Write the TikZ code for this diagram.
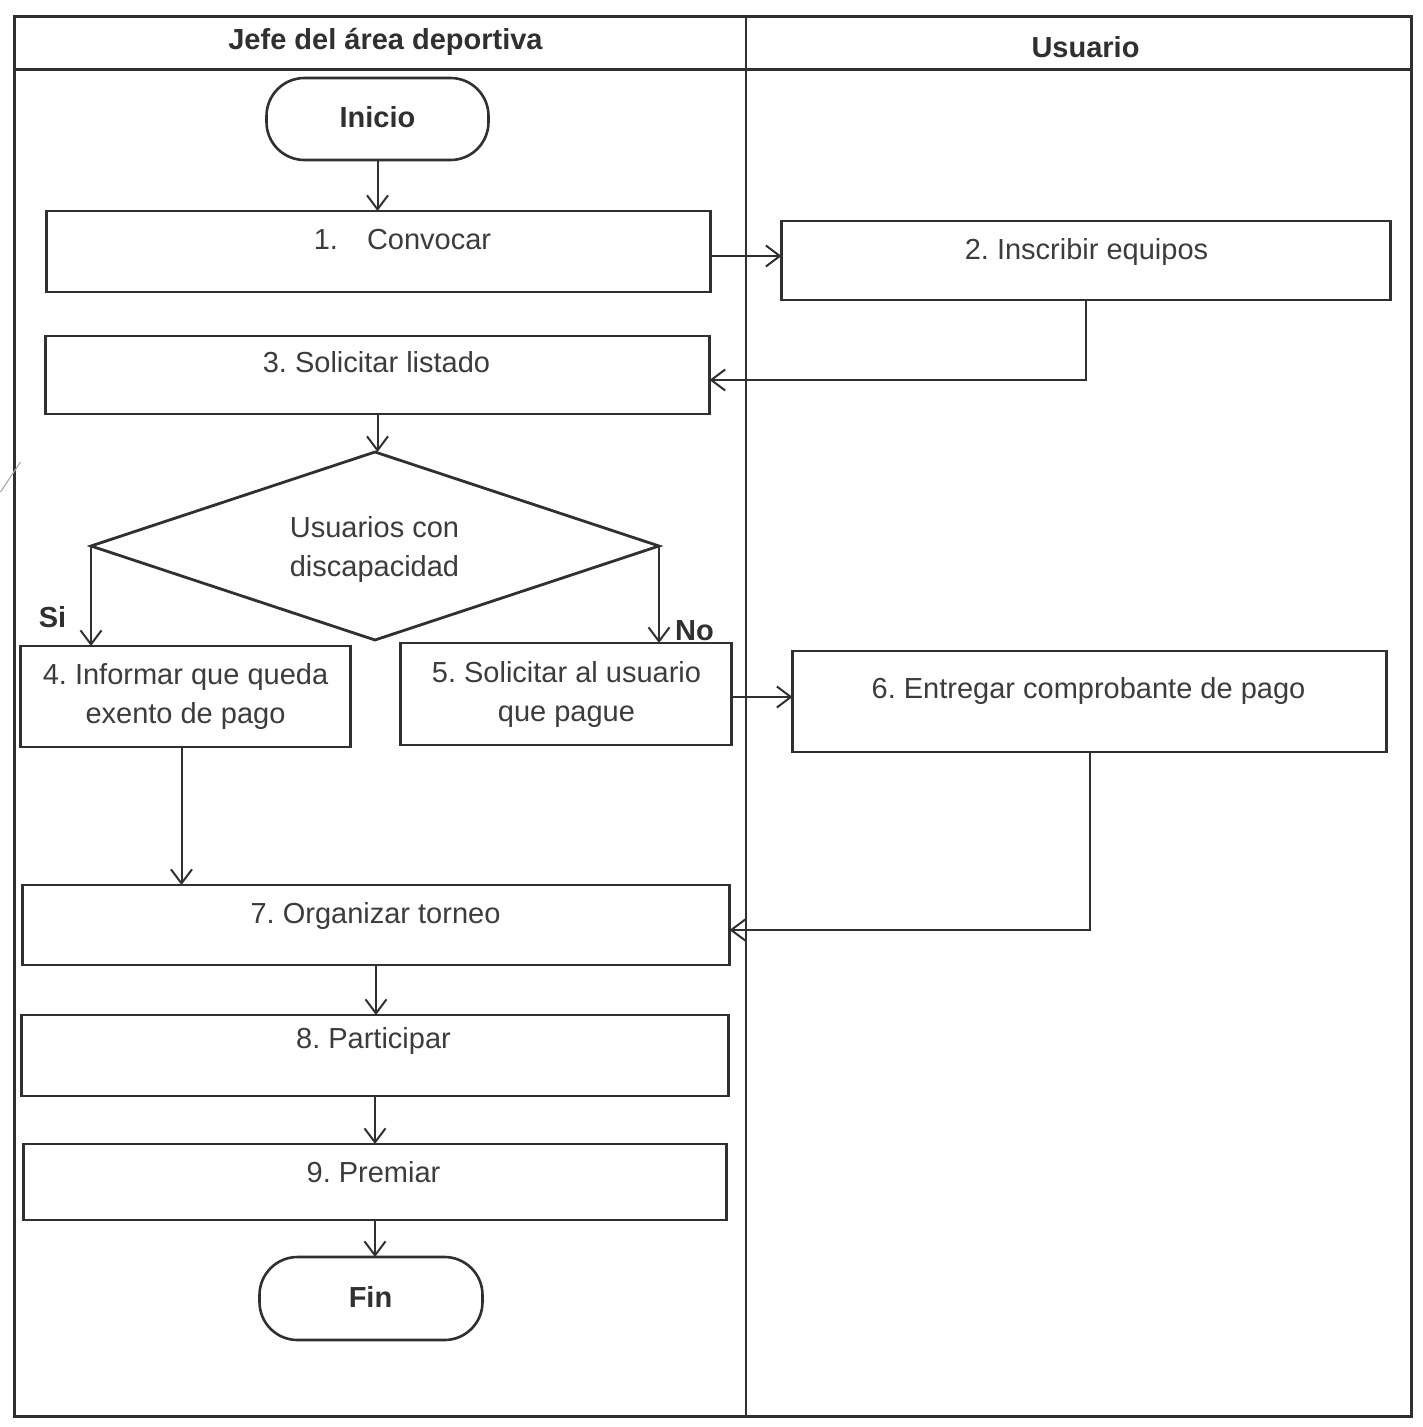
\documentclass[tikz,border=0pt]{standalone}
\usepackage{fontspec}
\setmainfont{Liberation Sans}
\usetikzlibrary{arrows.meta,shapes.geometric,calc}
\definecolor{ink}{HTML}{303030}
\definecolor{txtgray}{HTML}{3C3C3C}
\frenchspacing
\begin{document}
\begin{tikzpicture}[x=0.5pt,y=-0.5pt,
  every node/.style={inner sep=0pt, outer sep=0pt},
  stepbox/.style={draw=ink, line width=1.4pt, rectangle},
  terminal/.style={draw=ink, line width=1.3pt, rectangle, rounded corners=19pt,
                   minimum width=111pt, minimum height=41pt},
  decision/.style={draw=ink, line width=1.4pt, diamond,
                   minimum width=284pt, minimum height=94pt},
  txt/.style={anchor=base, text=txtgray, font=\fontsize{14.5}{17.4}\selectfont},
  btxt/.style={anchor=base, text=ink, font=\fontsize{14.5}{17.4}\selectfont\bfseries},
  arr/.style={draw=ink, line width=1pt, -{Straight Barb[length=7pt,width=10.5pt]}},
]
% page
\fill[white] (0,0) rectangle (1422,1427);

% swimlanes
\draw[ink, line width=1.5pt] (14,17) rectangle (1411,1416);
\draw[ink, line width=1.5pt] (14,70) -- (1411,70);
\draw[ink, line width=1pt] (745,17) -- (745,1416);
\node[btxt] (hjefe) at (385,50) {Jefe del área deportiva};
\node[btxt] (husr) at (1085,58) {Usuario};

% small pencil stroke on the left margin
\draw[gray!70, line width=0.5pt] (0,492) -- (20,462);

% shapes
\node[terminal] (inicio) at (377,119) {};
\node[stepbox, minimum width=332pt, minimum height=40.5pt] (b1) at (378,251.5) {};
\node[stepbox, minimum width=304.5pt, minimum height=39.5pt] (b2) at (1085.5,260.5) {};
\node[stepbox, minimum width=332pt, minimum height=39pt] (b3) at (377,375) {};
\node[decision] (dec) at (374.5,546) {};
\node[stepbox, minimum width=165pt, minimum height=50.5pt] (b4) at (185,696.5) {};
\node[stepbox, minimum width=165.5pt, minimum height=51pt] (b5) at (565.5,694) {};
\node[stepbox, minimum width=297pt, minimum height=50.5pt] (b6) at (1089,701.5) {};
\node[stepbox, minimum width=353.5pt, minimum height=40pt] (b7) at (375.5,925) {};
\node[stepbox, minimum width=353.5pt, minimum height=40.5pt] (b8) at (374.5,1055.5) {};
\node[stepbox, minimum width=351.5pt, minimum height=38pt] (b9) at (374.5,1182) {};
\node[terminal, minimum width=111.5pt, minimum height=41.5pt] (fin) at (370.5,1298.5) {};

% texts
\node[btxt] (tinicio) at (377,128) {Inicio};
\node[txt] (t1) at (402,250) {1.\quad Convocar};
\node[txt] (t2) at (1086,260) {2. Inscribir equipos};
\node[txt] (t3) at (376,372) {3. Solicitar listado};
\node[txt] (tda) at (374,537) {Usuarios con};
\node[txt] (tdb) at (374,576) {discapacidad};
\node[txt] (t4a) at (185,684) {4. Informar que queda};
\node[txt] (t4b) at (185,723) {exento de pago};
\node[txt] (t5a) at (566,682) {5. Solicitar al usuario};
\node[txt] (t5b) at (566,721) {que pague};
\node[txt] (t6) at (1088,698) {6. Entregar comprobante de pago};
\node[txt] (t7) at (375,923) {7. Organizar torneo};
\node[txt] (t8) at (373,1048) {8. Participar};
\node[txt] (t9) at (373,1182) {9. Premiar};
\node[btxt] (tfin) at (370,1307) {Fin};
\node[btxt] (lsi) at (52,627) {Si};
\node[btxt] (lno) at (694,640) {No};

% connectors
\draw[arr] (inicio.south) -- (inicio.south |- b1.north);
\draw[arr] ([yshift=-2.25pt]b1.east) -- ([yshift=-2.25pt]b1.east -| b2.west);
\draw[arr] (b2.south) |- ([yshift=-2.5pt]b3.east);
\draw[arr] (b3.south) -- (b3.south |- dec.north);
\draw[arr] (dec.west) -- (dec.west |- b4.north);
\draw[arr] (dec.east) -- (dec.east |- b5.north);
\draw[arr] ([yshift=-1.5pt]b5.east) -- ([yshift=-1.5pt]b5.east -| b6.west);
\draw[arr] ([xshift=-2pt]b4.south) -- ([xshift=-2pt]b4.south |- b7.north);
\draw[arr] (b6.south) |- ([yshift=-2.5pt]b7.east);
\draw[arr] (b7.south) -- (b7.south |- b8.north);
\draw[arr] (b8.south) -- (b8.south |- b9.north);
\draw[arr] (b9.south) -- (b9.south |- fin.north);
\end{tikzpicture}
\end{document}
